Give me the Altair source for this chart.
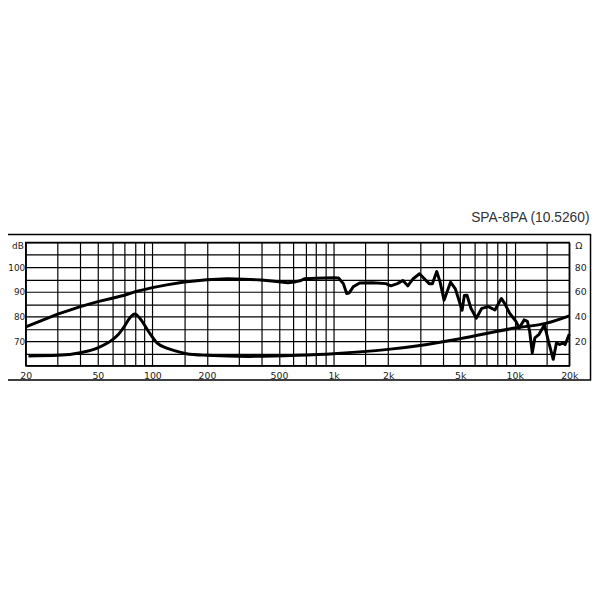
import altair as alt
import pandas as pd

# ---- data ----
title_text = "SPA-8PA (10.5260)"

freq_grid = [20, 30, 40, 50, 60, 70, 80, 90, 100, 150, 200, 300, 400, 500, 600, 700, 800, 900,
             1000, 1500, 2000, 3000, 4000, 5000, 6000, 7000, 8000, 9000, 10000, 15000, 20000]
freq_labels = [20, 50, 100, 200, 500, 1000, 2000, 5000, 10000, 20000]
db_grid = [60, 65, 70, 75, 80, 85, 90, 95, 100, 105, 110]
db_labels = [70, 80, 90, 100]
ohm_labels = [20, 40, 60, 80]

spl_freq = [20, 25, 30, 35, 40, 50, 60, 70, 80, 90, 100, 120, 150, 200, 260, 320, 400, 470, 560,
            620, 661, 689, 800, 1000, 1065, 1132, 1181, 1221, 1283, 1394, 1645, 1944, 2069, 2250,
            2414, 2567, 2750, 2980, 3170, 3370, 3510, 3710, 3870, 4070, 4420, 4700, 5120, 5270,
            5450, 5730, 6130, 6580, 7150, 7770, 8430, 8790, 9370, 10150, 10580, 11260, 11740,
            12080, 12490, 12910, 13570, 14580, 15340, 16300, 16990, 17700, 18450, 18980, 20000]
spl_db = [75.8, 78.6, 80.9, 82.6, 84.0, 86.0, 87.4, 88.6, 90.0, 90.9, 91.7, 92.8, 94.0, 94.9, 95.3,
          95.1, 94.8, 94.3, 93.7, 94.1, 94.6, 95.3, 95.5, 95.7, 95.6, 93.3, 89.3, 89.6, 92.0, 93.6,
          93.7, 93.3, 92.4, 93.3, 94.6, 92.4, 95.3, 97.3, 95.3, 93.3, 93.3, 98.2, 94.0, 86.6, 93.9,
          91.2, 82.5, 88.5, 88.6, 83.3, 79.3, 83.3, 84.0, 82.6, 87.3, 85.3, 81.3, 78.0, 75.3, 78.6,
          78.0, 74.0, 65.3, 71.3, 72.6, 76.6, 70.0, 62.6, 69.3, 68.6, 69.3, 68.6, 72.9]

imp_freq = [20.7, 30, 40, 50, 60, 65, 70, 75, 80, 85, 95, 106, 120, 131, 154, 200, 340, 631,
            1000, 2000, 3000, 5000, 10000, 15000, 20000]
imp_ohm = [8.0, 8.5, 10.6, 14.6, 21.0, 25.5, 32.0, 38.8, 42.0, 38.8, 28.0, 18.6, 14.3, 12.5, 9.8,
           8.5, 7.6, 8.5, 9.8, 13.3, 16.5, 22.0, 30.6, 34.6, 40.5]

spl_df = pd.DataFrame({"freq": spl_freq, "db": spl_db})
imp_df = pd.DataFrame({"freq": imp_freq, "ohm": imp_ohm})
one = pd.DataFrame({"k": [0]})

FONT = "DejaVu Sans"
FS = 9.5
FS_LEFT = 9
TXT = "#222222"

label_list = ",".join(str(v) for v in freq_labels)
x_label_expr = (f"indexof([{label_list}], datum.value) >= 0 ? "
                "(datum.value >= 1000 ? (datum.value / 1000) + 'k' : datum.value + '') : ''")
db_list = ",".join(str(v) for v in db_labels)
y_label_expr = f"indexof([{db_list}], datum.value) >= 0 ? datum.label : ''"

x_enc = alt.X("freq:Q",
              scale=alt.Scale(type="log", domain=[20, 20000], nice=False),
              axis=alt.Axis(values=freq_grid, labelExpr=x_label_expr, grid=True,
                            gridColor="#000000", gridWidth=1.2, gridOpacity=1,
                            domain=False, ticks=False, labelOverlap=False, labelFlush=False,
                            labelBound=False, labelPadding=5, labelFont=FONT, labelFontSize=FS,
                            labelColor=TXT, title=None))

spl = alt.Chart(spl_df).mark_line(color="#000000", strokeWidth=3, strokeJoin="round").encode(
    x=x_enc,
    y=alt.Y("db:Q", scale=alt.Scale(domain=[60, 110], nice=False, zero=False),
            axis=alt.Axis(values=db_grid, labelExpr=y_label_expr, grid=True,
                          gridColor="#000000", gridWidth=1.2, gridOpacity=1,
                          domain=False, ticks=False, labelOverlap=False, labelFlush=False,
                          labelPadding=1, labelFont=FONT, labelFontSize=FS_LEFT, labelColor=TXT,
                          title=None)),
)

imp = alt.Chart(imp_df).mark_line(color="#000000", strokeWidth=3, interpolate="monotone").encode(
    x=x_enc,
    y=alt.Y("ohm:Q", scale=alt.Scale(domain=[0, 100], nice=False, zero=False),
            axis=alt.Axis(orient="right", values=ohm_labels, grid=False, domain=False,
                          ticks=False, labelPadding=5, labelFont=FONT, labelFontSize=FS,
                          labelColor=TXT, title=None)),
)

frame = alt.Chart(one).mark_rect(fillOpacity=0, stroke="#000000", strokeWidth=1.5).encode(
    x=alt.value(-40), x2=alt.value(572.5), y=alt.value(-8), y2=alt.value(139.5)
)

title = alt.Chart(one).mark_text(align="right", baseline="alphabetic", font="Liberation Sans",
                                 fontSize=14, color="#333333").encode(
    x=alt.value(571.5), y=alt.value(-21), text=alt.value(title_text)
)

db_unit = alt.Chart(one).mark_text(align="right", baseline="middle", font=FONT, fontSize=FS_LEFT,
                                   color=TXT).encode(
    x=alt.value(-2), y=alt.value(4), text=alt.value("dB")
)
ohm_unit = alt.Chart(one).mark_text(align="left", baseline="middle", font=FONT, fontSize=FS,
                                    color=TXT).encode(
    x=alt.value(557), y=alt.value(4), text=alt.value("Ω")
)

chart = alt.layer(spl, imp, frame, title, db_unit, ohm_unit).resolve_scale(
    y="independent"
).properties(
    width=551, height=125,
    autosize=alt.AutoSizeParams(type="none"),
    padding={"left": 18, "top": 235, "right": 23, "bottom": 30},
    background="white",
).configure_view(stroke="#000000", strokeWidth=1.5)

chart.save("out.html", embed_options={"renderer": "svg", "actions": False})
